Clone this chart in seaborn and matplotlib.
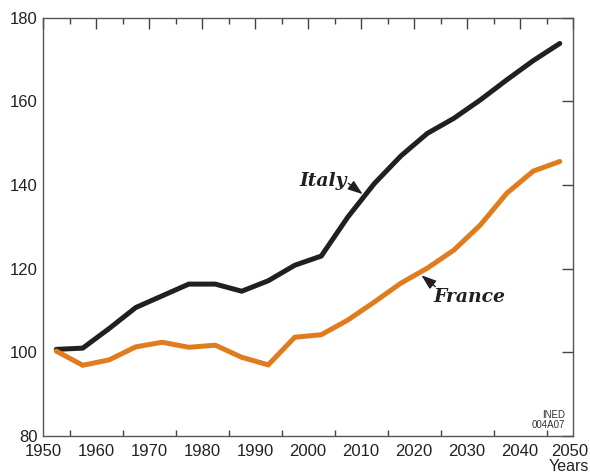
import matplotlib
matplotlib.use("Agg")
import matplotlib.pyplot as plt
import matplotlib.transforms as mtransforms
import seaborn as sns
import pandas as pd
from matplotlib.ticker import MultipleLocator

years = [1952.5, 1957.5, 1962.5, 1967.5, 1972.5, 1977.5, 1982.5, 1987.5, 1992.5, 1997.5,
         2002.5, 2007.5, 2012.5, 2017.5, 2022.5, 2027.5, 2032.5, 2037.5, 2042.5, 2047.5]
italy = [100.7, 101.0, 105.7, 110.7, 113.5, 116.3, 116.3, 114.6, 117.1, 120.8,
         123.0, 132.3, 140.3, 146.9, 152.3, 155.9, 160.3, 165.1, 169.7, 173.8]
france = [100.3, 96.9, 98.2, 101.3, 102.4, 101.2, 101.7, 98.8, 97.0, 103.6,
          104.2, 107.7, 112.0, 116.5, 120.1, 124.4, 130.4, 138.0, 143.3, 145.6]
x_ticks = [1950, 1960, 1970, 1980, 1990, 2000, 2010, 2020, 2030, 2040, 2050]
y_ticks = [80, 100, 120, 140, 160, 180]

df = pd.DataFrame({
    "year": years * 2,
    "value": italy + france,
    "country": ["Italy"] * len(years) + ["France"] * len(years),
})

sns.set_style("white")
plt.rcParams["font.family"] = ["Liberation Sans", "DejaVu Sans"]

fig = plt.figure(figsize=(5.9, 4.75), dpi=100)
ax = fig.add_axes([0.0729, 0.0821, 0.8983, 0.8810])

sns.lineplot(data=df, x="year", y="value", hue="country",
             palette={"Italy": "#231f20", "France": "#e07b1e"},
             linewidth=3.6, legend=False, ax=ax, solid_joinstyle="miter")

ax.set_xlim(1950, 2050)
ax.set_ylim(80, 180)
ax.set_xticks(x_ticks)
ax.set_yticks(y_ticks)
ax.xaxis.set_minor_locator(MultipleLocator(5))
ax.tick_params(axis="both", which="major", direction="in", length=8, width=1.0,
               color="#444444", labelsize=12, top=True, right=True, labelcolor="#222222")
ax.tick_params(axis="x", which="minor", direction="in", length=4, width=1.0,
               color="#444444", top=True, bottom=True)
ax.tick_params(axis="x", pad=6)
ax.tick_params(axis="y", pad=4)
for s in ax.spines.values():
    s.set_color("#555555")
    s.set_linewidth(1.0)
ax.set_xlabel("")
ax.set_ylabel("")

# nudge the last x tick label so it stays inside the figure
last = ax.get_xticklabels()[-1]
last.set_transform(last.get_transform() + mtransforms.ScaledTranslation(-3 / 100, 0, fig.dpi_scale_trans))

serif = ["DejaVu Serif"]
arrow = dict(arrowstyle="-|>,head_length=0.9,head_width=0.32",
             color="#231f20", lw=1.0, shrinkA=0, shrinkB=0)
ax.text(2007.3, 140.9, "Italy", fontsize=13.5, fontweight="bold", fontstyle="italic",
        family=serif, color="#231f20", ha="right", va="center")
ax.annotate("", xy=(2010.3, 137.8), xytext=(2007.6, 140.4), arrowprops=arrow)
ax.text(2023.7, 113.3, "France", fontsize=13.5, fontweight="bold", fontstyle="italic",
        family=serif, color="#231f20", ha="left", va="center")
ax.annotate("", xy=(2021.4, 118.4), xytext=(2024.0, 115.7), arrowprops=arrow)

ax.text(2048.5, 81.5, "INED\n004A07", fontsize=7, ha="right", va="bottom",
        color="#333333", linespacing=0.95)
fig.text(0.998, 0.003, "Years", fontsize=11.5, ha="right", va="bottom", color="#222222")

fig.savefig("out.png", dpi=100)
